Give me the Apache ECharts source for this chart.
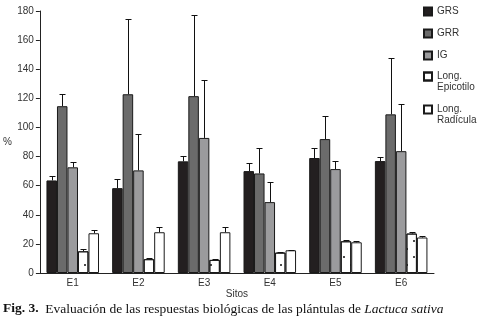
<!DOCTYPE html>
<html>
<head>
<meta charset="utf-8">
<script src="https://cdn.jsdelivr.net/npm/echarts@6/dist/echarts.min.js"></script>
<style>
  html, body { margin: 0; padding: 0; background: #fff; }
  #chart { width: 480px; height: 329px; }
</style>
</head>
<body>
<div id="chart"></div>
<script>
const categories = ["E1", "E2", "E3", "E4", "E5", "E6"];
const seriesNames = ["GRS", "GRR", "IG", "Long.\nEpicotilo", "Long.\nRadícula"];
const yTicks = [0, 20, 40, 60, 80, 100, 120, 140, 160, 180];

// bar heights (%)
const grs = [63.6, 58.3, 76.7, 70, 79, 76.9];
const grr = [114.6, 122.8, 121.5, 68.4, 92, 109];
const ig = [72.6, 70.5, 92.8, 48.7, 71.4, 83.7];
const longEpi = [14.9, 9.5, 9, 14, 21.8, 27.1];
const longRad = [27.3, 28, 28, 15.6, 21.1, 24.4];

// upper error (standard deviation)
const grsSd = [3, 6, 3.6, 5.3, 6.7, 2.8];
const grrSd = [8.2, 51.4, 55.8, 17.4, 15.7, 38.7];
const igSd = [3.8, 24.8, 39.7, 13.5, 5.3, 32.3];
const longEpiSd = [1.4, 0.5, 0.4, 0.7, 1.2, 0.8];
const longRadSd = [2, 3.3, 3.3, 0.5, 0.7, 1.3];

const values = [grs, grr, ig, longEpi, longRad];
const sds = [grsSd, grrSd, igSd, longEpiSd, longRadSd];
const colors = ["#231f20", "#6b6b6b", "#9b9b9d", "#ffffff", "#ffffff"];

const chart = echarts.init(document.getElementById("chart"));

const barSeries = values.map((vals, i) => {
  const itemStyle = {
    color: colors[i],
    borderColor: "#1a1a1a",
    borderWidth: 1
  };
  if (i === 3) {
    itemStyle.decal = {
      symbol: "circle",
      symbolSize: 1,
      color: "#111",
      dashArrayX: [[2, 12], [0, 7, 2, 5]],
      dashArrayY: [2, 6],
      rotation: 0
    };
  }
  return {
    name: seriesNames[i],
    type: "bar",
    data: vals,
    barGap: "0%",
    barCategoryGap: "20%",
    itemStyle: itemStyle,
    emphasis: { disabled: true }
  };
});

const errData = [];
values.forEach((vals, s) => {
  vals.forEach((v, c) => {
    errData.push([c, v + sds[s][c], v, s]);
  });
});

const errSeries = {
  type: "custom",
  name: "err",
  z: 10,
  data: errData,
  encode: { x: 0, y: 1 },
  renderItem: function (params, api) {
    const c = api.value(0);
    const top = api.coord([c, api.value(1)]);
    const base = api.coord([c, api.value(2)]);
    const bw = api.size([1, 0])[0] * 0.8 / 5;
    const x = Math.round(top[0] + (api.value(3) - 2) * bw) + 0.5;
    const yt = Math.round(top[1]) + 0.5;
    const style = { stroke: "#111", lineWidth: 1 };
    return {
      type: "group",
      children: [
        { type: "line", shape: { x1: x, y1: yt, x2: x, y2: base[1] }, style: style },
        { type: "line", shape: { x1: x - 3, y1: yt, x2: x + 3, y2: yt }, style: style }
      ]
    };
  }
};

const legendBase = {
  orient: "vertical",
  left: 423,
  padding: 0,
  itemWidth: 8,
  itemHeight: 8,
  icon: "rect",
  selectedMode: false,
  textStyle: { fontSize: 10, color: "#333", lineHeight: 11 }
};

chart.setOption({
  animation: false,
  textStyle: { fontFamily: "Liberation Sans, Arial, sans-serif" },
  grid: { left: 39, right: 46, top: 11, bottom: 56 },
  legend: [
    Object.assign({}, legendBase, {
      top: 6,
      itemGap: 11,
      data: seriesNames.slice(0, 3)
    }),
    Object.assign({}, legendBase, {
      top: 60,
      itemGap: 0,
      data: seriesNames.slice(3),
      // blank first line keeps the square level with "Long."
      formatter: name => " \n" + name
    })
  ],
  xAxis: {
    type: "category",
    data: categories,
    name: "Sitos",
    nameLocation: "middle",
    nameGap: 16,
    nameMoveOverlap: false,
    nameTextStyle: { fontSize: 10, color: "#333" },
    axisLine: { lineStyle: { color: "#222" } },
    axisTick: { length: 4, lineStyle: { color: "#222" } },
    axisLabel: { fontSize: 10, color: "#333", margin: 5 }
  },
  yAxis: {
    type: "value",
    min: 0,
    max: 180,
    interval: 20,
    name: "%",
    nameLocation: "middle",
    nameRotate: 0,
    nameGap: 28,
    nameMoveOverlap: false,
    nameTextStyle: { fontSize: 10, color: "#333" },
    splitLine: { show: false },
    axisLine: { show: true, lineStyle: { color: "#222" } },
    axisTick: { show: true, length: 4, lineStyle: { color: "#222" } },
    axisLabel: {
      fontSize: 10,
      color: "#333",
      margin: 6,
      formatter: v => (yTicks.includes(v) ? String(v) : "")
    }
  },
  graphic: [{
    type: "text",
    left: 3,
    top: 302,
    style: {
      text: "{b|Fig. 3.}  {n|Evaluación de las respuestas biológicas de las plántulas de }{i|Lactuca sativa}",
      rich: {
        b: { fontFamily: "Liberation Serif", fontWeight: "bold", fontSize: 13.5, fill: "#111" },
        n: { fontFamily: "Liberation Serif", fontSize: 13.5, fill: "#111" },
        i: { fontFamily: "Liberation Serif", fontStyle: "italic", fontSize: 13.5, fill: "#111" }
      }
    }
  }],
  series: barSeries.concat([errSeries])
});
</script>
</body>
</html>
